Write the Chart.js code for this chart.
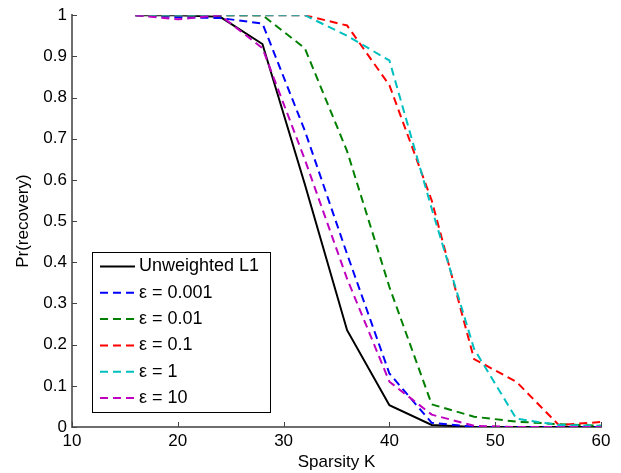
<!DOCTYPE html>
<html lang="en">
  <head>
    <meta charset="utf-8" />
    <title>Pr(recovery) vs Sparsity K</title>
    <script src="https://cdn.jsdelivr.net/npm/chart.js/dist/chart.umd.min.js"></script>
    <style>
      * {
        margin: 0;
        padding: 0;
      }
      body {
        background: #fff;
      }
    </style>
  </head>
  <body>
    <canvas id="myChart" width="621" height="473"></canvas>

    <script>
      // data
      const sparsityK = [16, 20, 24, 28, 32, 36, 40, 44, 48, 52, 56, 60];
      const unweightedL1 = [1, 1, 0.996, 0.93, 0.59, 0.235, 0.053, 0.005, 0, 0, 0, 0];
      const eps0001 = [1, 0.995, 0.993, 0.98, 0.72, 0.42, 0.13, 0.01, 0, 0, 0, 0];
      const eps001 = [1, 1, 1, 1, 0.92, 0.67, 0.34, 0.055, 0.025, 0.013, 0.007, 0.003];
      const eps01 = [1, 1, 1, 1, 1, 0.975, 0.83, 0.55, 0.165, 0.11, 0.005, 0.012];
      const eps1 = [1, 1, 1, 1, 1, 0.95, 0.89, 0.53, 0.19, 0.02, 0.005, 0.003];
      const eps10 = [1, 0.99, 1, 0.92, 0.65, 0.36, 0.11, 0.03, 0.003, 0, 0, 0];

      const seriesLabels = ["Unweighted L1", "ε = 0.001", "ε = 0.01", "ε = 0.1", "ε = 1", "ε = 10"];
      const seriesValues = [unweightedL1, eps0001, eps001, eps01, eps1, eps10];
      const seriesColors = ["#000000", "#0000ff", "#008000", "#ff0000", "#00bfbf", "#bf00bf"];

      const xTicks = [10, 20, 30, 40, 50, 60];
      const yTicks = [0, 0.1, 0.2, 0.3, 0.4, 0.5, 0.6, 0.7, 0.8, 0.9, 1];

      const FONT = "'Liberation Sans', Arial, sans-serif";
      const AXIS_COLOR = "#6e6e6e";

      const datasets = seriesValues.map((vals, i) => ({
        label: seriesLabels[i],
        data: sparsityK.map((k, j) => ({ x: k, y: vals[j] })),
        borderColor: seriesColors[i],
        backgroundColor: seriesColors[i],
        borderWidth: 2,
        borderDash: i === 0 ? [] : [8, 5],
        pointRadius: 0,
        tension: 0,
        fill: false,
        order: seriesValues.length - i, // later series drawn on top
      }));

      // inward tick marks, like the original
      const inwardTicks = {
        id: "inwardTicks",
        afterDraw(chart) {
          const { ctx, chartArea, scales } = chart;
          ctx.save();
          ctx.strokeStyle = "#444";
          ctx.lineWidth = 1;
          xTicks.forEach((v) => {
            const px = Math.round(scales.x.getPixelForValue(v)) + 0.5;
            ctx.beginPath();
            ctx.moveTo(px, chartArea.bottom);
            ctx.lineTo(px, chartArea.bottom - 5);
            ctx.stroke();
          });
          yTicks.forEach((v) => {
            const py = Math.round(scales.y.getPixelForValue(v)) + 0.5;
            ctx.beginPath();
            ctx.moveTo(chartArea.left, py);
            ctx.lineTo(chartArea.left + 5, py);
            ctx.stroke();
          });
          ctx.restore();
        },
      };

      // boxed legend in the lower left of the plot
      const boxedLegend = {
        id: "boxedLegend",
        afterDraw(chart) {
          const { ctx, chartArea } = chart;
          const x0 = chartArea.left + 20;
          const y0 = chartArea.bottom - 175;
          const w = 178;
          const h = 160;
          const rowH = 26.3;
          ctx.save();
          ctx.fillStyle = "#fff";
          ctx.fillRect(x0, y0, w, h);
          ctx.strokeStyle = "#000";
          ctx.lineWidth = 1;
          ctx.strokeRect(x0 + 0.5, y0 + 0.5, w, h);
          ctx.font = `18px ${FONT}`;
          ctx.textBaseline = "middle";
          ctx.textAlign = "left";
          chart.data.datasets.forEach((ds, i) => {
            const cy = y0 + 14.5 + i * rowH;
            ctx.strokeStyle = ds.borderColor;
            ctx.lineWidth = 2;
            ctx.setLineDash(ds.borderDash);
            ctx.beginPath();
            ctx.moveTo(x0 + 8, cy);
            ctx.lineTo(x0 + 43, cy);
            ctx.stroke();
            ctx.setLineDash([]);
            ctx.fillStyle = "#000";
            ctx.fillText(ds.label, x0 + 47, cy);
          });
          ctx.restore();
        },
      };

      const config = {
        type: "line",
        data: { datasets },
        options: {
          responsive: false,
          animation: false,
          devicePixelRatio: 1,
          layout: { padding: { top: 10, right: 20, left: 0, bottom: 0 } },
          plugins: {
            legend: { display: false },
            tooltip: { enabled: false },
          },
          scales: {
            x: {
              type: "linear",
              min: 10,
              max: 60,
              afterBuildTicks: (s) => {
                s.ticks = xTicks.map((v) => ({ value: v }));
              },
              afterFit: (s) => {
                s.height = 46;
              },
              grid: { display: false, drawTicks: false },
              border: { display: true, color: AXIS_COLOR, width: 2 },
              ticks: {
                color: "#000",
                font: { family: FONT, size: 17 },
                padding: 4,
                maxRotation: 0,
              },
              title: {
                display: true,
                text: "Sparsity K",
                color: "#000",
                font: { family: FONT, size: 17 },
                padding: { top: 0, bottom: 0 },
              },
            },
            y: {
              type: "linear",
              min: 0,
              max: 1,
              afterBuildTicks: (s) => {
                s.ticks = yTicks.map((v) => ({ value: v }));
              },
              afterFit: (s) => {
                s.width = 72;
              },
              grid: { display: false, drawTicks: false },
              border: { display: true, color: AXIS_COLOR, width: 2 },
              ticks: {
                color: "#000",
                font: { family: FONT, size: 17 },
                padding: 5,
                callback: (v) => String(Number(v.toFixed(1))),
              },
              title: {
                display: true,
                text: "Pr(recovery)",
                color: "#000",
                font: { family: FONT, size: 17 },
                padding: { top: 13, bottom: 0 },
              },
            },
          },
        },
        plugins: [inwardTicks, boxedLegend],
      };

      const myChart = new Chart(document.getElementById("myChart"), config);
    </script>
  </body>
</html>
